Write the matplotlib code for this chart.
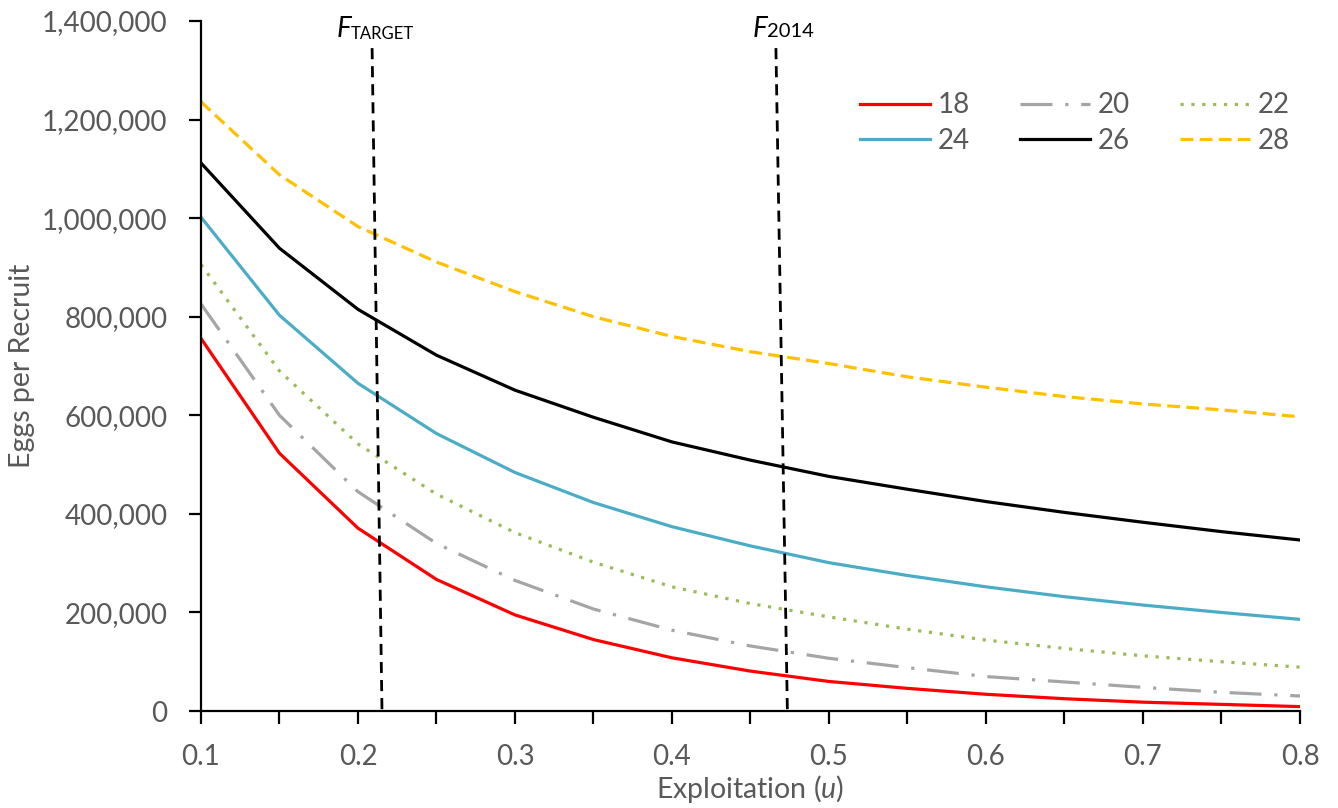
import matplotlib
matplotlib.use("Agg")
import matplotlib.pyplot as plt
from matplotlib.ticker import FuncFormatter, MultipleLocator

plt.rcParams['font.family'] = ['Lato', 'DejaVu Sans']
plt.rcParams['mathtext.fontset'] = 'custom'
plt.rcParams['mathtext.rm'] = 'Lato'
plt.rcParams['mathtext.it'] = 'Lato:italic'

# exploitation rate (u)
u = [0.1, 0.15, 0.2, 0.25, 0.3, 0.35, 0.4, 0.45, 0.5, 0.55, 0.6, 0.65, 0.7, 0.75, 0.8]

# eggs per recruit, one series per size limit
epr_18 = [756000, 523000, 371000, 267000, 195000, 145000, 108000, 81000, 60000, 46000, 34000, 25000, 18000, 13500, 9000]
epr_20 = [826000, 600000, 445000, 340000, 265000, 207000, 164000, 132000, 107000, 88000, 70000, 59000, 48000, 38000, 30500]
epr_22 = [906000, 690000, 542000, 440000, 362000, 302000, 252000, 218000, 191000, 166000, 144000, 127000, 112000, 100000, 89000]
epr_24 = [1002000, 803000, 665000, 563000, 484000, 423000, 374000, 335000, 301000, 275000, 252000, 232000, 215000, 200000, 186000]
epr_26 = [1112000, 939000, 815000, 722000, 651000, 596000, 546000, 509000, 476000, 450000, 425000, 403000, 383000, 364000, 347000]
epr_28 = [1236000, 1088000, 983000, 911000, 851000, 800000, 760000, 729000, 705000, 678000, 657000, 638000, 623000, 611000, 597000]

# reference lines (u at top, u at bottom)
f_target_u = [0.209, 0.2153]
f_2014_u = [0.4662, 0.4735]
ref_y = [1345000, 0]
lab_y = 1368000

fig = plt.figure(figsize=(13.38, 8.08), dpi=100)
ax = fig.add_axes([0.1502, 0.12, 0.8214, 0.854])

lw = 2.3
l18, = ax.plot(u, epr_18, color='#FF0000', lw=lw, label='18')
l20, = ax.plot(u, epr_20, color='#A5A5A5', lw=lw, dashes=(10, 4, 1, 4), label='20')
l22, = ax.plot(u, epr_22, color='#9BBB59', lw=lw, dashes=(1, 2.4), label='22')
l24, = ax.plot(u, epr_24, color='#4BACC6', lw=lw, label='24')
l26, = ax.plot(u, epr_26, color='#000000', lw=lw, label='26')
l28, = ax.plot(u, epr_28, color='#FFC000', lw=lw, dashes=(4, 2), label='28')

ax.plot(f_target_u, ref_y, color='black', lw=2.0, dashes=(4, 2.5))
ax.plot(f_2014_u, ref_y, color='black', lw=2.0, dashes=(4, 2.5))

# line labels: italic F with smaller upright suffix
ax.annotate('F', (f_target_u[0], lab_y), xytext=(-15, 0), textcoords='offset points',
            ha='right', va='baseline', fontsize=20, style='italic')
ax.annotate('TARGET', (f_target_u[0], lab_y), xytext=(-15.5, -1.5), textcoords='offset points',
            ha='left', va='baseline', fontsize=12)
ax.annotate('F', (f_2014_u[0], lab_y), xytext=(-6, 0), textcoords='offset points',
            ha='right', va='baseline', fontsize=20, style='italic')
ax.annotate('2014', (f_2014_u[0], lab_y), xytext=(-6.5, 0), textcoords='offset points',
            ha='left', va='baseline', fontsize=14.5)

ax.set_xlim(0.1, 0.8)
ax.set_ylim(0, 1400000)
ax.xaxis.set_major_locator(MultipleLocator(0.1))
ax.xaxis.set_minor_locator(MultipleLocator(0.05))
ax.yaxis.set_major_locator(MultipleLocator(200000))
ax.yaxis.set_major_formatter(FuncFormatter(lambda v, p: '{:,.0f}'.format(v)))
ax.xaxis.set_major_formatter(FuncFormatter(lambda v, p: '{:.1f}'.format(v)))

for s in ['top', 'right']:
    ax.spines[s].set_visible(False)
for s in ['left', 'bottom']:
    ax.spines[s].set_linewidth(1.6)
ax.tick_params(which='both', direction='out', length=9, width=1.6, colors='black',
               labelcolor='#595959', labelsize=20)
ax.tick_params(axis='x', pad=15)
ax.tick_params(axis='y', pad=15)

ax.set_ylabel('Eggs per Recruit', fontsize=20.5, color='#595959', labelpad=5)
ax.set_xlabel(r'Exploitation ($u$)', fontsize=20.5, color='#595959', labelpad=2)

leg = ax.legend(handles=[l18, l24, l20, l26, l22, l28], ncol=3, frameon=False,
                loc='upper right', bbox_to_anchor=(1.0137, 0.933), fontsize=20,
                handlelength=2.5, columnspacing=1.8, handletextpad=0.3,
                labelspacing=0.35, labelcolor='#595959')

fig.savefig('out.png', dpi=100)
